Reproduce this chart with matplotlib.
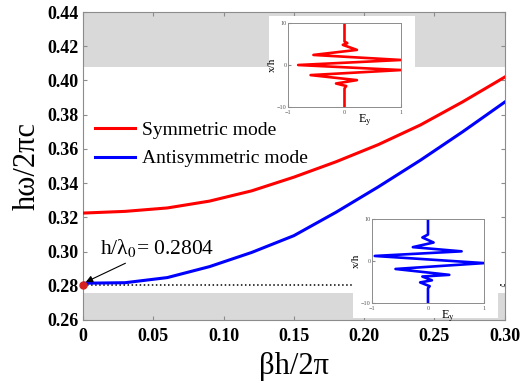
import numpy as np
import matplotlib
matplotlib.use("Agg")
import matplotlib.pyplot as plt
from matplotlib.patches import Rectangle

plt.rcParams['font.family'] = ['Liberation Serif', 'DejaVu Serif']
plt.rcParams['mathtext.fontset'] = 'stix'

# dispersion curves
beta = [0, 0.03, 0.06, 0.09, 0.12, 0.15, 0.18, 0.21, 0.24, 0.27, 0.30]
sym_freq = [0.3225, 0.3235, 0.3255, 0.3295, 0.3355, 0.3435, 0.3525, 0.3625, 0.3740, 0.3875, 0.4020]
anti_freq = [0.2815, 0.2818, 0.2848, 0.2912, 0.2995, 0.3093, 0.3230, 0.3378, 0.3534, 0.3700, 0.3874]

cutoff = 0.2804
band_top = (0.408, 0.44)
band_bottom = (0.26, 0.276)

xticks = [0, 0.05, 0.10, 0.15, 0.20, 0.25, 0.30]
xticklabels = ['0', '0.05', '0.10', '0.15', '0.20', '0.25', '0.30']
yticks = [0.26, 0.28, 0.30, 0.32, 0.34, 0.36, 0.38, 0.40, 0.42, 0.44]

# field profiles for the insets (x/h, Ey)
sym_x = [10, 5.6, 5.2, 4.8, 3.6, 2.4, 1.2, 0, -1.2, -2.4, -3.6, -4.4, -5.0, -5.6, -10]
sym_ey = [0, 0, 0.05, -0.03, 0.22, -0.55, 1.0, -0.82, 1.0, -0.6, 0.22, -0.15, 0.03, 0, 0]
anti_x = [10, 6.3, 5.6, 4.4, 3.3, 2.3, 1.2, -0.5, -1.9, -3.3, -3.7, -4.6, -5.1, -6.0, -6.5, -10]
anti_ey = [0, 0, -0.1, 0.1, -0.27, 0.6, -0.95, 1.0, -0.58, 0.38, -0.1, 0.07, -0.14, 0.03, 0, 0]

red = '#ff0000'
blue = '#0000ff'
grey = '#d9d9d9'
spine = '#8c8c8c'

fig = plt.figure(figsize=(5.22, 3.83), dpi=100)
ax = fig.add_axes([0.159, 0.1645, 0.808, 0.804])

ax.axhspan(*band_top, color=grey, lw=0, zorder=0)
ax.axhspan(*band_bottom, color=grey, lw=0, zorder=0)
ax.axhline(cutoff, color='black', ls=':', lw=1.1, zorder=1)

ax.plot(beta, sym_freq, color=red, lw=2.2, label='Symmetric mode', zorder=3)
ax.plot(beta, anti_freq, color=blue, lw=2.2, label='Antisymmetric mode', zorder=3)
ax.plot([0], [cutoff], 'o', color='#d62020', ms=5, clip_on=False, zorder=4)

ax.annotate(r'h/λ$_0$= 0.2804', xy=(0.002, 0.2822), xytext=(0.012, 0.2955),
            fontsize=15.5, ha='left', va='bottom',
            arrowprops=dict(arrowstyle='-|>', color='black', lw=0.8,
                            shrinkA=2, shrinkB=0, mutation_scale=10))

ax.set_xlim(0, 0.30)
ax.set_ylim(0.26, 0.44)
ax.set_xticks(xticks)
ax.set_xticklabels(xticklabels)
ax.set_yticks(yticks)
ax.set_yticklabels(['%.2f' % v for v in yticks])
ax.tick_params(direction='in', top=True, right=True, length=3, color=spine,
               labelsize=13, pad=3)
ax.tick_params(axis='x', pad=6)
for lab in ax.get_xticklabels() + ax.get_yticklabels():
    lab.set_fontweight('bold')
for s in ax.spines.values():
    s.set_color(spine)
    s.set_linewidth(0.8)

ax.set_xlabel('βh/2π', fontsize=22, labelpad=5)
ax.set_ylabel('hω/2πc', fontsize=22, labelpad=4)

ax.legend(loc='upper left', bbox_to_anchor=(0.028, 0.645), frameon=False,
          fontsize=14, handlelength=2.05, handletextpad=0.4,
          labelspacing=0.56, borderpad=0, borderaxespad=0)

# white backgrounds behind insets
ax.add_patch(Rectangle((0.441, 0.633), 0.346, 0.354, transform=ax.transAxes,
                       facecolor='white', edgecolor='none', zorder=5))
ax.add_patch(Rectangle((0.64, 0.0065), 0.343, 0.345, transform=ax.transAxes,
                       facecolor='white', edgecolor='none', zorder=5))


def inset(rect, ey, xh, color):
    a = fig.add_axes(rect)
    a.plot(ey, xh, color=color, lw=1.9)
    a.set_xlim(-1, 1)
    a.set_ylim(-10, 10)
    a.set_xticks([-1, 0, 1])
    a.set_yticks([-10, 0, 10])
    a.tick_params(direction='in', length=2, labelsize=4.5, pad=1,
                  color=spine, labelcolor='#555555')
    a.tick_params(axis='x', pad=2)
    for s in a.spines.values():
        s.set_color(spine)
        s.set_linewidth(0.7)
    a.set_ylabel('x/h', fontsize=8, labelpad=0)
    a.set_xlabel(r'E$_\mathrm{y}$', fontsize=9, labelpad=-2)
    a.xaxis.set_label_coords(0.68, -0.06)
    return a


inset([0.5517, 0.7206, 0.2165, 0.2193], sym_ey, sym_x, red)
inset([0.7126, 0.2089, 0.2146, 0.2193], anti_ey, anti_x, blue)

fig.savefig('out.png', dpi=100)
